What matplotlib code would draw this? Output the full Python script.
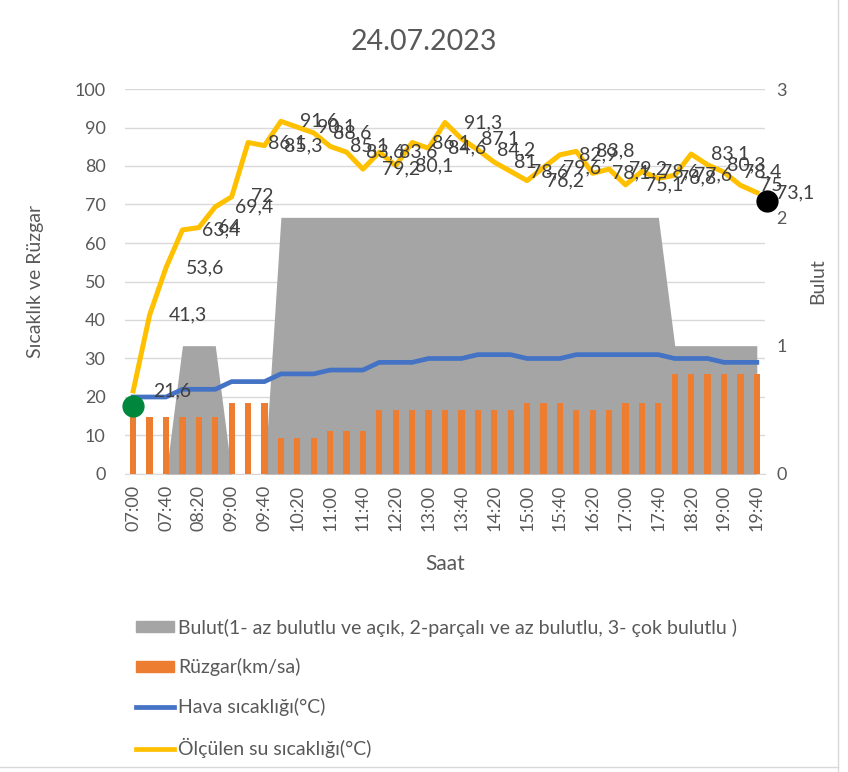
import numpy as np
import matplotlib.pyplot as plt
from matplotlib.patches import Patch
from matplotlib.lines import Line2D

plt.rcParams['font.family'] = ['Lato', 'DejaVu Sans']

# Saatler (20 dakikada bir ölçüm)
saat = ["07:00", "07:20", "07:40", "08:00", "08:20", "08:40", "09:00", "09:20",
        "09:40", "10:00", "10:20", "10:40", "11:00", "11:20", "11:40", "12:00",
        "12:20", "12:40", "13:00", "13:20", "13:40", "14:00", "14:20", "14:40",
        "15:00", "15:20", "15:40", "16:00", "16:20", "16:40", "17:00", "17:20",
        "17:40", "18:00", "18:20", "18:40", "19:00", "19:20", "19:40"]

# Bulut (sağ eksen, 0-3)
bulut = [0, 0, 0, 1, 1, 1, 0, 0, 0, 2, 2, 2, 2, 2, 2, 2, 2, 2, 2, 2,
         2, 2, 2, 2, 2, 2, 2, 2, 2, 2, 2, 2, 2, 1, 1, 1, 1, 1, 1]

# Rüzgar (km/sa)
ruzgar = [14.8, 14.8, 14.8, 14.8, 14.8, 14.8, 18.5, 18.5, 18.5, 9.3, 9.3, 9.3,
          11.1, 11.1, 11.1, 16.7, 16.7, 16.7, 16.7, 16.7, 16.7, 16.7, 16.7, 16.7,
          18.5, 18.5, 18.5, 16.7, 16.7, 16.7, 18.5, 18.5, 18.5,
          25.9, 25.9, 25.9, 25.9, 25.9, 25.9]

# Hava sıcaklığı (°C)
hava = [20, 20, 20, 22, 22, 22, 24, 24, 24, 26, 26, 26, 27, 27, 27, 29, 29, 29,
        30, 30, 30, 31, 31, 31, 30, 30, 30, 31, 31, 31, 31, 31, 31, 30, 30, 30,
        29, 29, 29]

# Ölçülen su sıcaklığı (°C)
su = [21.6, 41.3, 53.6, 63.4, 64, 69.4, 72, 86.1, 85.3, 91.6, 90.1, 88.6, 85.1,
      83.6, 79.2, 83.6, 80.1, 86.1, 84.6, 91.3, 87.1, 84.2, 81, 78.6, 76.2, 79.6,
      82.9, 83.8, 78.1, 79.2, 75.1, 78.6, 76.8, 77.6, 83.1, 80.3, 78.4, 75, 73.1]

# Başlangıç ve bitiş işaretleri
isaret_saat = [0, 38.6]
isaret_deger = [17.7, 70.8]
isaret_renk = ['#00873E', 'black']

metin = '#595959'
x = np.arange(len(saat))

fig = plt.figure(figsize=(8.48, 7.72), dpi=100)
ax = fig.add_axes([125/848, 1 - 474/772, 640/848, 385/772])

ax.set_xlim(-0.5, len(saat) - 0.5)
ax.set_ylim(0, 100)
ax.set_yticks(range(0, 101, 10))
ax.grid(axis='y', color='#D9D9D9', lw=1)
ax.set_axisbelow(True)
for s in ['top', 'left', 'right']:
    ax.spines[s].set_visible(False)
ax.spines['bottom'].set_color('#D9D9D9')
ax.tick_params(length=0, colors=metin, labelsize=13)
ax.tick_params(axis='y', pad=14)
ax.set_xticks(x[::2])
ax.set_xticklabels(saat[::2], rotation=90)
ax.tick_params(axis='x', pad=8)
ax.set_ylabel('Sıcaklık ve Rüzgar', color=metin, fontsize=14, labelpad=22)
ax.set_xlabel('Saat', color=metin, fontsize=15, labelpad=16)

# Bulut alanı (sağ eksen)
ax2 = ax.twinx()
ax2.fill_between(x, bulut, color='#A5A5A5', lw=0)
ax2.set_ylim(0, 3)
ax2.set_yticks([0, 1, 2, 3])
for s in ax2.spines.values():
    s.set_visible(False)
ax2.tick_params(length=0, colors=metin, labelsize=13, pad=8)
ax2.set_ylabel('Bulut', color=metin, fontsize=14, labelpad=16)

# Rüzgar ve sıcaklıklar
ax3 = ax.twinx()
ax3.set_ylim(0, 100)
ax3.axis('off')
ax3.bar(x, ruzgar, width=0.38, color='#ED7D31')
ax3.plot(x, hava, color='#4472C4', lw=3.4, solid_joinstyle='round')
ax3.plot(x, su, color='#FFC000', lw=3.6, solid_joinstyle='round')
for xi, v in zip(x, su):
    ax3.annotate(f'{v:g}'.replace('.', ','), (xi, v), xytext=(14, 0),
                 textcoords='offset points', ha='left', va='center',
                 fontsize=14, color='#404040')
for xi, v, c in zip(isaret_saat, isaret_deger, isaret_renk):
    ax3.plot(xi, v, 'o', ms=15, color=c, zorder=5, clip_on=False)

fig.suptitle('24.07.2023', y=1 - 42/772, va='center', fontsize=20.5, color=metin)

handles = [Patch(color='#A5A5A5'), Patch(color='#ED7D31'),
           Line2D([], [], color='#4472C4', lw=3.4),
           Line2D([], [], color='#FFC000', lw=3.4)]
labels = ['Bulut(1- az bulutlu ve açık, 2-parçalı ve az bulutlu, 3- çok bulutlu )',
          'Rüzgar(km/sa)', 'Hava sıcaklığı(°C)', 'Ölçülen su sıcaklığı(°C)']
leg = fig.legend(handles, labels, loc='upper left',
                 bbox_to_anchor=(118/848, 1 - 601/772), frameon=False,
                 fontsize=14, labelspacing=1.12, handlelength=2.0,
                 handleheight=0.5, handletextpad=0.2)
for t in leg.get_texts():
    t.set_color(metin)

# Grafik alanı kenarı
fig.add_artist(Line2D([838/848, 838/848], [0, 1], color='#D9D9D9', lw=1))
fig.add_artist(Line2D([0, 838/848], [1 - 767/772, 1 - 767/772], color='#D9D9D9', lw=1))

fig.savefig('out.png', dpi=100)
